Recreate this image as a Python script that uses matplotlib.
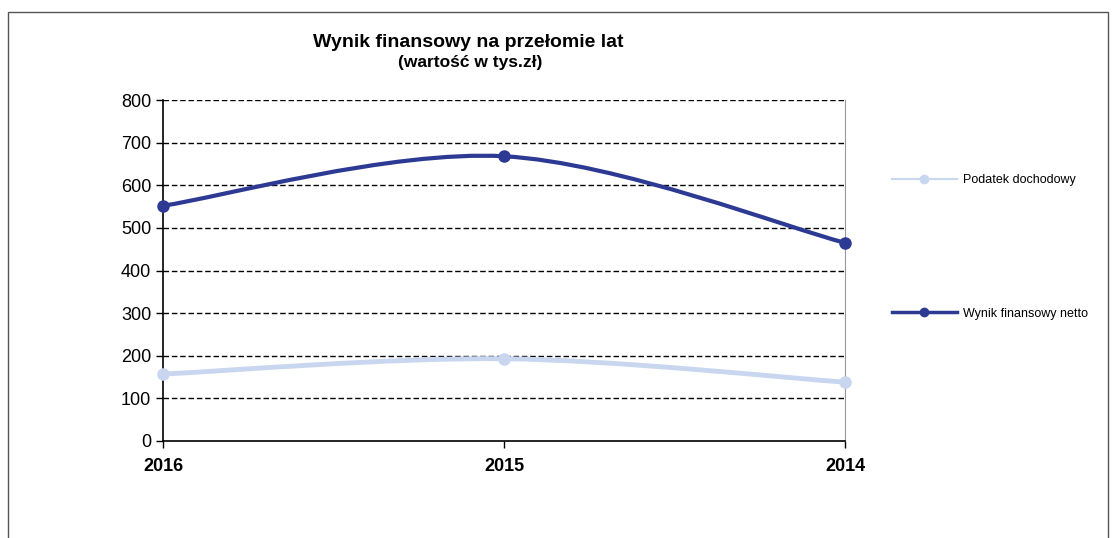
import matplotlib
matplotlib.use('Agg')
from matplotlib import pyplot as plt
from matplotlib.path import Path
from matplotlib.patches import PathPatch, Rectangle
from matplotlib.lines import Line2D
import numpy as np

plt.rcParams['font.family'] = ['Liberation Sans', 'DejaVu Sans']

years = ['2016', '2015', '2014']
podatek = [157, 193, 138]
wynik = [552, 668, 465]
y_ticks = [0, 100, 200, 300, 400, 500, 600, 700, 800]

dark = '#2d3a94'
light = '#c8d6f0'


def smooth_path(xs, ys, t=1 / 6):
    # Excel-like smoothed line: cubic Bezier through the points
    pts = np.column_stack([xs, ys]).astype(float)
    verts = [pts[0]]
    codes = [Path.MOVETO]
    n = len(pts)
    for i in range(n - 1):
        p0 = pts[max(i - 1, 0)]
        p1 = pts[i]
        p2 = pts[i + 1]
        p3 = pts[min(i + 2, n - 1)]
        c1 = p1 + (p2 - p0) * t
        c2 = p2 - (p3 - p1) * t
        verts += [c1, c2, p2]
        codes += [Path.CURVE4] * 3
    return Path(verts, codes)


def main():
    fig = plt.figure(figsize=(11.12, 5.38), dpi=100)
    ax = fig.add_axes([0.1466, 0.1803, 0.6134, 0.6338])

    x = np.arange(len(years))

    for vals, col, lw in [(podatek, light, 3.5), (wynik, dark, 3)]:
        ax.add_patch(PathPatch(smooth_path(x, vals), fill=False,
                               edgecolor=col, lw=lw, capstyle='round',
                               zorder=3))
        ax.plot(x, vals, 'o', color=col, markersize=8, zorder=4,
                clip_on=False)

    ax.set_xlim(0, 2)
    ax.set_ylim(0, 800)
    ax.set_yticks(y_ticks)
    ax.set_xticks(x)
    ax.set_xticklabels(years, fontweight='bold', fontsize=13)
    ax.tick_params(axis='y', labelsize=13, length=5, width=1, direction='out')
    ax.tick_params(axis='x', length=5, width=1, direction='out', pad=7)

    for v in y_ticks[1:]:
        ax.axhline(v, color='black', lw=1, ls=(0, (4, 2)), zorder=1)

    ax.spines['top'].set_visible(False)
    ax.spines['right'].set_color('#999999')
    ax.spines['right'].set_linewidth(0.8)
    ax.spines['left'].set_linewidth(1.2)
    ax.spines['bottom'].set_linewidth(1.2)

    handles = [
        Line2D([], [], color=light, lw=1.5, marker='o', markersize=6),
        Line2D([], [], color=dark, lw=2.5, marker='o', markersize=6),
    ]
    ax.legend(handles, ['Podatek dochodowy', 'Wynik finansowy netto'],
              loc='upper left', bbox_to_anchor=(1.052, 0.815), frameon=False,
              fontsize=9, handlelength=5.2, labelspacing=9.7,
              handletextpad=0.5)

    fig.text(0.421, 0.912, 'Wynik finansowy na przełomie lat',
             ha='center', fontsize=14, fontweight='bold')
    fig.text(0.4225, 0.876, '(wartość w tys.zł)', ha='center',
             fontsize=12.5, fontweight='bold')

    fig.patches.append(Rectangle((8 / 1112, -0.02), 1100 / 1112,
                                 1 - 12 / 538 + 0.02,
                                 transform=fig.transFigure, fill=False,
                                 edgecolor='#555555', lw=1))

    fig.savefig('out.png', dpi=100)


if __name__ == '__main__':
    main()
